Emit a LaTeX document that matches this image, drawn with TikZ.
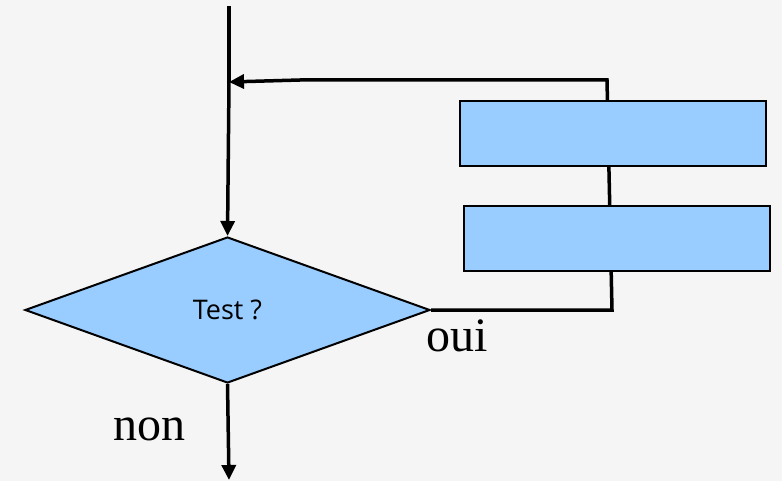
\documentclass[tikz,border=0pt]{standalone}
\usepackage{fontspec}
\setmainfont{Liberation Serif}
\newfontfamily\testfont{Open Sans}
\usetikzlibrary{shapes.geometric,arrows.meta}
\definecolor{fond}{RGB}{245,245,245}
\definecolor{bleu}{RGB}{153,204,255}

\begin{document}
\begin{tikzpicture}[x=1pt,y=-1pt,
    fleche/.style={line width=3.5pt, -{Triangle[length=15pt,width=14pt]}},
    trait/.style={line width=3.5pt},
    bloc/.style={draw, line width=2pt, fill=bleu, rectangle,
        minimum width=306pt, minimum height=65pt, inner sep=0pt}]
\fill[fond] (0,0) rectangle (782,481);
\useasboundingbox (0,0) rectangle (782,481);
\node[diamond, draw, line width=2pt, fill=bleu, inner sep=0pt,
    minimum width=405pt, minimum height=146pt,
    font=\testfont\fontsize{27}{32}\selectfont] (test) at (227.5,310) {\raisebox{-3pt}{Test ?}};
\coordinate (debut) at (229,6);
\coordinate (retour) at (229,82);
\coordinate (bas) at (612,310);
\coordinate (haut) at (607,80);
\coordinate (fin) at (229,480);
\draw[trait] (debut) -- (retour);
\draw[fleche] (retour) -- (test.north);
\draw[fleche] (test.south) -- (fin);
\draw[trait] (test.east) -- (bas) -- (haut) -- (haut -| 300,0);
\draw[fleche] (haut -| 300,0) -- (retour);
\node[bloc] (bloc1) at (613,133.5) {};
\node[bloc] (bloc2) at (617,239) {};
\node[anchor=base west, font=\fontsize{48}{56}\selectfont] (oui) at (423,351) {oui};
\node[anchor=base west, font=\fontsize{48}{56}\selectfont] (non) at (110,440) {non};
\end{tikzpicture}
\end{document}
